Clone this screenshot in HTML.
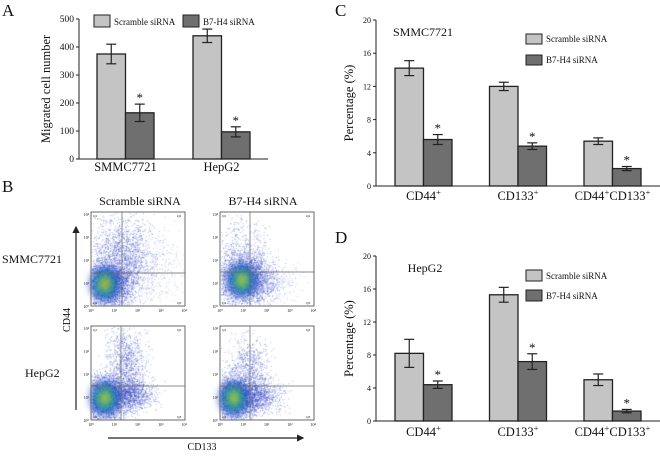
<!DOCTYPE html>
<html><head><meta charset="utf-8"><style>
html,body{margin:0;padding:0;background:#fff;width:660px;height:456px;overflow:hidden}
#fig{position:absolute;left:0;top:0}
canvas{position:absolute}
text{font-family:"Liberation Serif",serif;fill:#111}
</style></head><body>
<canvas id="flow" width="660" height="456" style="left:0;top:0"></canvas>
<svg id="fig" width="660" height="456"></svg>
<script>
// Panel A data
const aCats=["SMMC7721","HepG2"];
const aScr=[375,440], aScrErr=[35,24];
const aB7=[165,97], aB7Err=[31,18];
const aTicks=[0,100,200,300,400,500];
// Panel C data
const pCats=["CD44+","CD133+","CD44+CD133+"];
const cScr=[14.2,12.0,5.4], cScrErr=[0.9,0.5,0.4];
const cB7=[5.6,4.8,2.1], cB7Err=[0.6,0.4,0.25];
// Panel D data
const dScr=[8.2,15.3,5.0], dScrErr=[1.7,0.9,0.7];
const dB7=[4.4,7.2,1.2], dB7Err=[0.45,0.95,0.2];
const pTicks=[0,4,8,12,16,20];

const NS="http://www.w3.org/2000/svg";
const svg=document.getElementById('fig');
function el(tag,attrs,parent,txt){const e=document.createElementNS(NS,tag);for(const k in attrs)e.setAttribute(k,attrs[k]);if(txt!==undefined)e.textContent=txt;(parent||svg).appendChild(e);return e;}
const LIGHT="#c4c4c4",DARK="#6f6f6f";

function barChart(o){
  const g=el('g',{});
  const y=v=>o.y0-(v-o.min)/(o.max-o.min)*(o.y0-o.y1);
  const ax=el('line',{x1:o.ax,y1:o.y1,x2:o.ax,y2:o.y0,stroke:'#222','stroke-width':1},g);
  
  const xa=el('line',{x1:o.ax,y1:o.y0,x2:o.axEnd,y2:o.y0,stroke:'#222','stroke-width':1},g);
  
  o.ticks.forEach(t=>{
    el('line',{x1:o.ax-3,y1:y(t),x2:o.ax,y2:y(t),stroke:'#222'},g);
    const tl=el('text',{x:o.ax-5,y:y(t)+3,'text-anchor':'end','font-size':o.tfs},g,t);
    
  });
  o.cats.forEach((c,i)=>{
    const x0=o.cx0+i*o.step;
    [[o.s1,o.e1,LIGHT,x0,false],[o.s2,o.e2,DARK,x0+o.bw,true]].forEach(([s,e,col,bx,star],j)=>{
      const v=s[i],er=e[i];
      const r=el('rect',{x:bx,y:y(v),width:o.bw,height:o.y0-y(v),fill:col,stroke:'#222','stroke-width':1.3},g);
      
      const mx=bx+o.bw/2;
      el('line',{x1:mx,y1:y(v+er),x2:mx,y2:y(v-er),stroke:'#222','stroke-width':1.2},g);
      el('line',{x1:mx-5,y1:y(v+er),x2:mx+5,y2:y(v+er),stroke:'#222','stroke-width':1.2},g);
      el('line',{x1:mx-5,y1:y(v-er),x2:mx+5,y2:y(v-er),stroke:'#222','stroke-width':1.2},g);
      if(star){const st=el('text',{x:mx,y:y(v+er)-2,'text-anchor':'middle','font-size':13},g,'*');
        }
    });
    const lab=el('text',{x:x0+o.bw,y:o.labY,'text-anchor':'middle','font-size':o.lfs},g);
    
    if(c.indexOf('+')<0){lab.textContent=c;}
    else c.split('+').forEach(p=>{if(p){el('tspan',{},lab,p);el('tspan',{'font-size':o.lfs*0.7,'baseline-shift':'super'},lab,'+');}});
  });
  const yl=el('text',{x:0,y:0,transform:`translate(${o.ylx},${(o.y0+o.y1)/2}) rotate(-90)`,'text-anchor':'middle','font-size':o.ylfs},g,o.ylabel);
  
  return g;
}
function legendItem(x,y,w,h,col,label,fs,name){
  const r=el('rect',{x:x,y:y,width:w,height:h,fill:col,stroke:'#222','stroke-width':1});
  
  const t=el('text',{x:x+w+4,y:y+h-2,'font-size':fs},svg,label);
  
}
function letter(x,y,s){const t=el('text',{x:x,y:y,'font-size':17},svg,s);}

letter(2,16,'A');
barChart({name:'panel-a-chart',cats:aCats,s1:aScr,e1:aScrErr,s2:aB7,e2:aB7Err,ticks:aTicks,min:0,max:500,
  ax:79,axEnd:268,y0:159,y1:19,cx0:97,step:96,bw:28.5,tfs:9.5,lfs:12.5,labY:171,ylabel:'Migrated cell number',ylx:50,ylfs:12.5});
legendItem(94,15,16,12,LIGHT,'Scramble siRNA',9,'legend-scramble');
legendItem(183,15,16,12,DARK,'B7-H4 siRNA',9,'legend-b7h4');

letter(335,16,'C');
barChart({name:'panel-c-chart',cats:pCats,s1:cScr,e1:cScrErr,s2:cB7,e2:cB7Err,ticks:pTicks,min:0,max:20,
  ax:376,axEnd:660,y0:186,y1:20,cx0:395,step:94.5,bw:28.5,tfs:8,lfs:12.5,labY:200,ylabel:'Percentage (%)',ylx:353,ylfs:12.5});
const tc=el('text',{x:423,y:36,'text-anchor':'middle','font-size':12},svg,'SMMC7721');
legendItem(526,34,16,10,LIGHT,'Scramble siRNA',9,'legend-c-scramble');
legendItem(526,55,16,10,DARK,'B7-H4 siRNA',9,'legend-c-b7h4');

letter(335,243,'D');
barChart({name:'panel-d-chart',cats:pCats,s1:dScr,e1:dScrErr,s2:dB7,e2:dB7Err,ticks:pTicks,min:0,max:20,
  ax:376,axEnd:660,y0:421,y1:256,cx0:395,step:94.5,bw:28.5,tfs:8,lfs:12.5,labY:436,ylabel:'Percentage (%)',ylx:353,ylfs:12.5});
const td=el('text',{x:425,y:272,'text-anchor':'middle','font-size':12},svg,'HepG2');
legendItem(526,270,16,11,LIGHT,'Scramble siRNA',9,'legend-d-scramble');
legendItem(526,290,16,11,DARK,'B7-H4 siRNA',9,'legend-d-b7h4');

letter(2,192,'B');
[['Scramble siRNA',140],['B7-H4 siRNA',263]].forEach(([s,x])=>{const t=el('text',{x:x,y:205,'text-anchor':'middle','font-size':12},svg,s);});
[['SMMC7721',2,263],['HepG2',25,377]].forEach(([s,x,y])=>{const t=el('text',{x:x,y:y,'font-size':12},svg,s);});
const plots=[[91,212,122,273,0],[220,212,250,272,1],[91,326,121,386,2],[220,326,250,386,3]];
plots.forEach(([x,y,vx,hy,k])=>{
  const r=el('rect',{x:x,y:y,width:94,height:94,fill:'none',stroke:'#444','stroke-width':0.8});
  
  el('line',{x1:vx,y1:y,x2:vx,y2:y+94,stroke:'#666','stroke-width':0.7});
  el('line',{x1:x,y1:hy,x2:x+94,y2:hy,stroke:'#666','stroke-width':0.7});
  [['Q1',x+2,y+5],['Q2',x+86,y+5],['Q4',x+2,y+92],['Q3',x+86,y+92]].forEach(([q,qx,qy])=>el('text',{x:qx,y:qy,'font-size':3.5},svg,q));
  for(let i=0;i<5;i++){
    el('text',{x:x-2,y:y+94-i*23+2,'text-anchor':'end','font-size':4},svg,'10'+['⁰','¹','²','³','⁴'][i]);
    el('text',{x:x+i*23.3,y:y+100,'text-anchor':'middle','font-size':4},svg,'10'+['⁰','¹','²','³','⁴'][i]);
  }
});
el('defs',{}).innerHTML='<marker id="ah" markerWidth="6" markerHeight="6" refX="5" refY="3" orient="auto"><path d="M0,0 L6,3 L0,6 z" fill="#222"/></marker>';
const va=el('line',{x1:76,y1:410,x2:76,y2:227,stroke:'#222','stroke-width':1.2,'marker-end':'url(#ah)'});
const ha=el('line',{x1:108,y1:438,x2:303,y2:438,stroke:'#222','stroke-width':1.2,'marker-end':'url(#ah)'});
const l1=el('text',{transform:'translate(70,320) rotate(-90)','text-anchor':'middle','font-size':10},svg,'CD44');
const l2=el('text',{x:202,y:450,'text-anchor':'middle','font-size':10},svg,'CD133');

// flow scatter (decorative)
const cv=document.getElementById('flow').getContext('2d');
let seed=7;function rnd(){seed=(seed*16807)%2147483647;return seed/2147483647;}
function gauss(){let s=0;for(let i=0;i<6;i++)s+=rnd();return (s-3)*1.4;}
function cloud(px,py,cx,cy,sx,sy,n,col){cv.fillStyle=col;for(let i=0;i<n;i++){const x=px+cx+gauss()*sx,y=py+cy+gauss()*sy;if(x>px+1&&x<px+93&&y>py+1&&y<py+93)cv.fillRect(x,y,0.9,0.9);}}
function plotCloud(px,py,k){
  const blue='rgba(40,60,190,0.45)';
  if(k===0){cloud(px,py,30,45,16,22,1800,blue);cloud(px,py,18,72,12,12,2500,blue);cloud(px,py,55,60,18,20,600,'rgba(60,80,200,0.3)');}
  if(k===1){cloud(px,py,22,50,14,20,900,blue);cloud(px,py,25,68,14,12,2500,blue);cloud(px,py,50,70,14,10,400,'rgba(60,80,200,0.3)');}
  if(k===2){cloud(px,py,35,35,10,18,1000,blue);cloud(px,py,38,68,12,8,1200,blue);cloud(px,py,14,72,12,12,2500,blue);}
  if(k===3){cloud(px,py,28,42,10,16,700,blue);cloud(px,py,35,70,13,8,1100,blue);cloud(px,py,14,72,12,12,2500,blue);}
  const cx=px+(k===1?22:14),cy=py+(k===1?68:72);
  cv.save();cv.filter='blur(3px)';
  [['rgba(30,70,200,0.6)',16,18],['rgba(0,160,170,0.55)',11,13],['rgba(120,200,60,0.6)',7,9],['rgba(240,220,40,0.55)',4,5],['rgba(240,110,30,0.6)',k===0?2.5:0,2.5]].forEach(([c,rx,ry])=>{if(rx){cv.fillStyle=c;cv.beginPath();cv.ellipse(cx,cy,rx,ry,0,0,7);cv.fill();}});
  cv.restore();
}
plots.forEach(([x,y,,,k])=>plotCloud(x,y,k));
</script>
</body></html>
